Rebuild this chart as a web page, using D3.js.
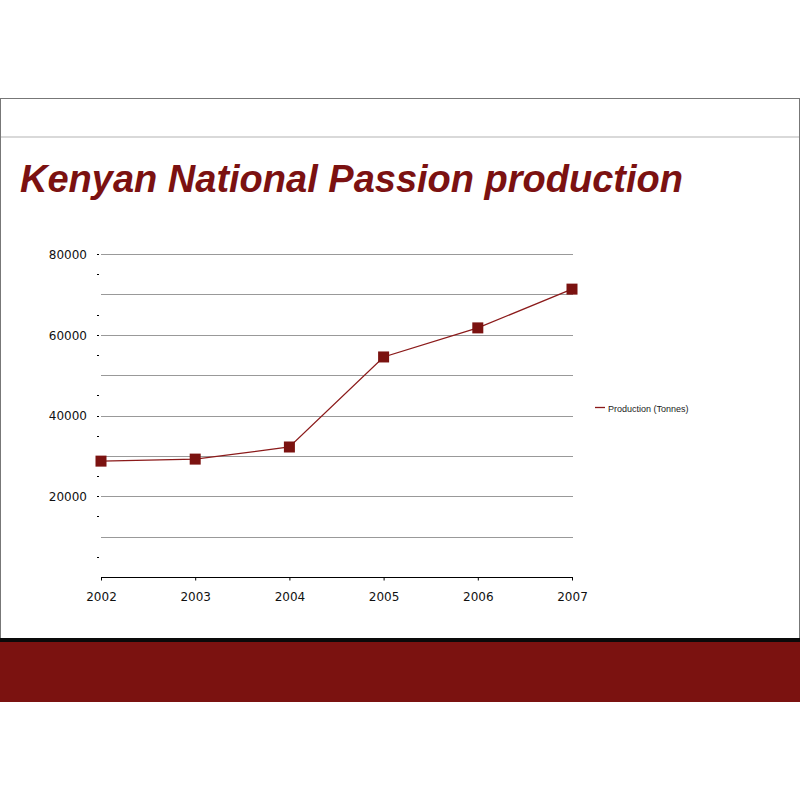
<!DOCTYPE html>
<html><head><meta charset="utf-8">
<script src="https://cdn.jsdelivr.net/npm/d3@7"></script>
<style>body{margin:0;background:#fff}svg{display:block}</style>
</head><body>
<svg id="c" width="800" height="800"></svg>
<script>
const years = [2002, 2003, 2004, 2005, 2006, 2007];
const production = [28700, 29200, 32200, 54500, 61700, 71300];
const yTickLabels = [20000, 40000, 60000, 80000];
const seriesName = "Production (Tonnes)";
const title = "Kenyan National Passion production";

const svg = d3.select("#c");
const red = "#7b1210";

// slide frame
svg.append("rect").attr("x",0.5).attr("y",98.5).attr("width",799).attr("height",540).attr("fill","#fff").attr("stroke","#777").attr("stroke-width",1);
svg.append("line").attr("x1",1).attr("x2",799).attr("y1",137).attr("y2",137).attr("stroke","#d9d9d9").attr("stroke-width",2);
svg.append("rect").attr("x",0).attr("y",638).attr("width",800).attr("height",5).attr("fill","#0a0a0a");
svg.append("rect").attr("x",0).attr("y",642).attr("width",800).attr("height",60).attr("fill",red);

svg.append("text").attr("x",20).attr("y",192).text(title)
  .attr("font-family","Liberation Sans, Arial, sans-serif").attr("font-weight","bold").attr("font-style","italic")
  .attr("font-size",38).attr("fill","#7b1111");

const x = d3.scaleLinear().domain([2002,2007]).range([101,572]);
const y = d3.scaleLinear().domain([0,80000]).range([577,254]);

// gridlines
const grid = d3.range(10000, 80001, 10000);
svg.append("g").selectAll("line").data(grid).join("line")
  .attr("x1",101).attr("x2",573).attr("y1",d=>Math.round(y(d))+0.5).attr("y2",d=>Math.round(y(d))+0.5)
  .attr("stroke","#999").attr("stroke-width",1);

// minor ticks (dots)
const minor = d3.range(5000, 80001, 5000).filter(v => v % 20000 === 0 || v % 10000 !== 0);
svg.append("g").selectAll("rect").data(minor).join("rect")
  .attr("x",97).attr("y",d=>Math.round(y(d))).attr("width",2).attr("height",1).attr("fill","#000");

// y labels
const yAxis = d3.axisLeft(y).tickValues(yTickLabels).tickSize(0).tickPadding(12).tickFormat(d3.format("d"));
const gy = svg.append("g").attr("transform","translate(99,0.5)").call(yAxis);
gy.select(".domain").remove();
gy.selectAll("text").attr("font-family","DejaVu Sans, sans-serif").attr("font-size",12).attr("fill","#111");

// x axis
const xAxis = d3.axisBottom(x).tickValues(years).tickSize(3).tickPadding(12).tickFormat(d3.format("d"));
const gx = svg.append("g").attr("transform","translate(0,577.5)").call(xAxis);
gx.select(".domain").attr("stroke","#000").attr("d","M101,0H573");
gx.selectAll("text").attr("font-family","DejaVu Sans, sans-serif").attr("font-size",12).attr("fill","#111");

// line
const data = years.map((yr,i)=>({yr, v: production[i]}));
svg.append("path").datum(data).attr("fill","none").attr("stroke","#8b1a1a").attr("stroke-width",1.3)
  .attr("d", d3.line().x(d=>x(d.yr)).y(d=>y(d.v)));
svg.append("g").selectAll("rect").data(data).join("rect")
  .attr("x",d=>x(d.yr)-5.5).attr("y",d=>y(d.v)-5.5).attr("width",11).attr("height",11).attr("fill",red);

// legend
svg.append("line").attr("x1",595).attr("x2",605).attr("y1",407.5).attr("y2",407.5).attr("stroke","#8b1a1a").attr("stroke-width",1.3);
svg.append("text").attr("x",608).attr("y",412).text(seriesName)
  .attr("font-family","Liberation Sans, Arial, sans-serif").attr("font-size",9).attr("fill","#222");
</script>
</body></html>
